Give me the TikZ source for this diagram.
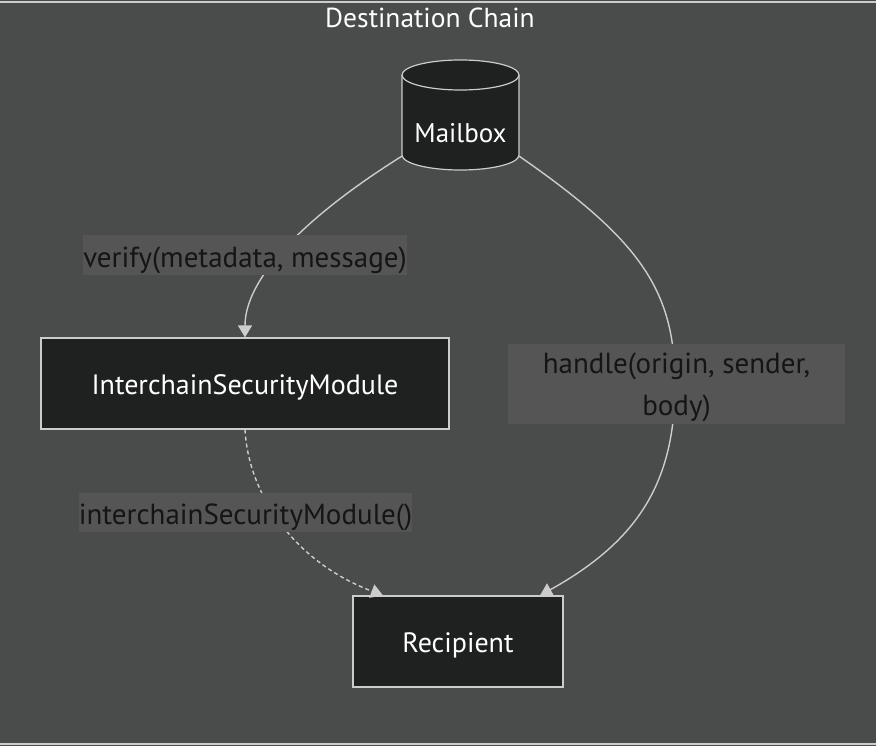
\documentclass[tikz,border=0pt]{standalone}
\usepackage{fontspec}
\setmainfont{PT Sans}
\usetikzlibrary{arrows.meta}
\definecolor{bgc}{HTML}{4A4B4B}
\definecolor{nodefill}{HTML}{1F2020}
\definecolor{linec}{HTML}{CCCCCC}
\definecolor{lblbg}{HTML}{555555}
\definecolor{lbltext}{HTML}{151515}
\tikzset{
  box/.style={draw=linec, line width=1.2pt, fill=nodefill, text=white, inner sep=0pt, font=\fontsize{28}{33}\selectfont, text height=26pt, text depth=3.4pt},
  lblbase/.style={fill=lblbg, text=lbltext, inner sep=0pt, font=\fontsize{29}{34}\selectfont, align=center},
  lbl/.style={lblbase, text height=28pt, text depth=3.7pt},
  conn/.style={draw=linec, line width=1.4pt, -{Triangle[width=14pt,length=12pt,fill=linec]}},
}
\begin{document}
\begin{tikzpicture}[x=1pt,y=-1pt]
\useasboundingbox (0,0) rectangle (876,746);
\fill[bgc] (0,0) rectangle (876,746);
\draw[linec, line width=1.2pt] (-2,2) rectangle (878,744);
\node[text=white, font=\fontsize{27.5}{32}\selectfont] (title) at (430,18) {Destination Chain};
% cylinder
\filldraw[fill=nodefill, draw=linec, line width=1.2pt]
  (402,75) -- (402,155) arc[start angle=180, end angle=0, x radius=58.5, y radius=15]
  -- (519,75) arc[start angle=0, end angle=-180, x radius=58.5, y radius=15] -- cycle;
\draw[linec, line width=1.2pt] (402,75) arc[start angle=180, end angle=0, x radius=58.5, y radius=15];
\node[inner sep=0pt, minimum width=117pt, minimum height=81pt] (mb) at (460.5,115.5) {};
\node[text=white, font=\fontsize{27}{32}\selectfont] (mbt) at (460.5,133) {Mailbox};
\node[box, minimum width=408pt, minimum height=91pt] (ism) at (245,383.5) {InterchainSecurityModule};
\node[box, minimum width=210pt, minimum height=91pt] (rec) at (458,641.5) {Recipient};
\coordinate (recL) at ([xshift=-75pt]rec.north);
\coordinate (recR) at ([xshift=82pt]rec.north);
% edges
\draw[conn] (mb.south west) .. controls (300,220) and (245,280) .. (ism.north);
\draw[conn] (mb.south east) .. controls (640,240) and (675,290) .. (675,384) .. controls (675,480) and (640,540) .. (recR);
\draw[conn, dashed, dash pattern=on 4pt off 3pt] (ism.south) .. controls (248,490) and (290,560) .. (recL);
% labels
\node[lbl, minimum width=324pt, minimum height=40pt] (l1) at (245,255) {verify(metadata, message)};
\node[lblbase, minimum width=337pt, minimum height=80pt] (l2) at (676.5,384) {};
\node[lblbase, fill=none] (l2t) at (676.5,387.5) {handle(origin, sender,\\[8pt]body)};
\node[lbl, minimum width=327pt, minimum height=39pt] (l3) at (245.5,512.5) {interchainSecurityModule()};
\end{tikzpicture}
\end{document}
